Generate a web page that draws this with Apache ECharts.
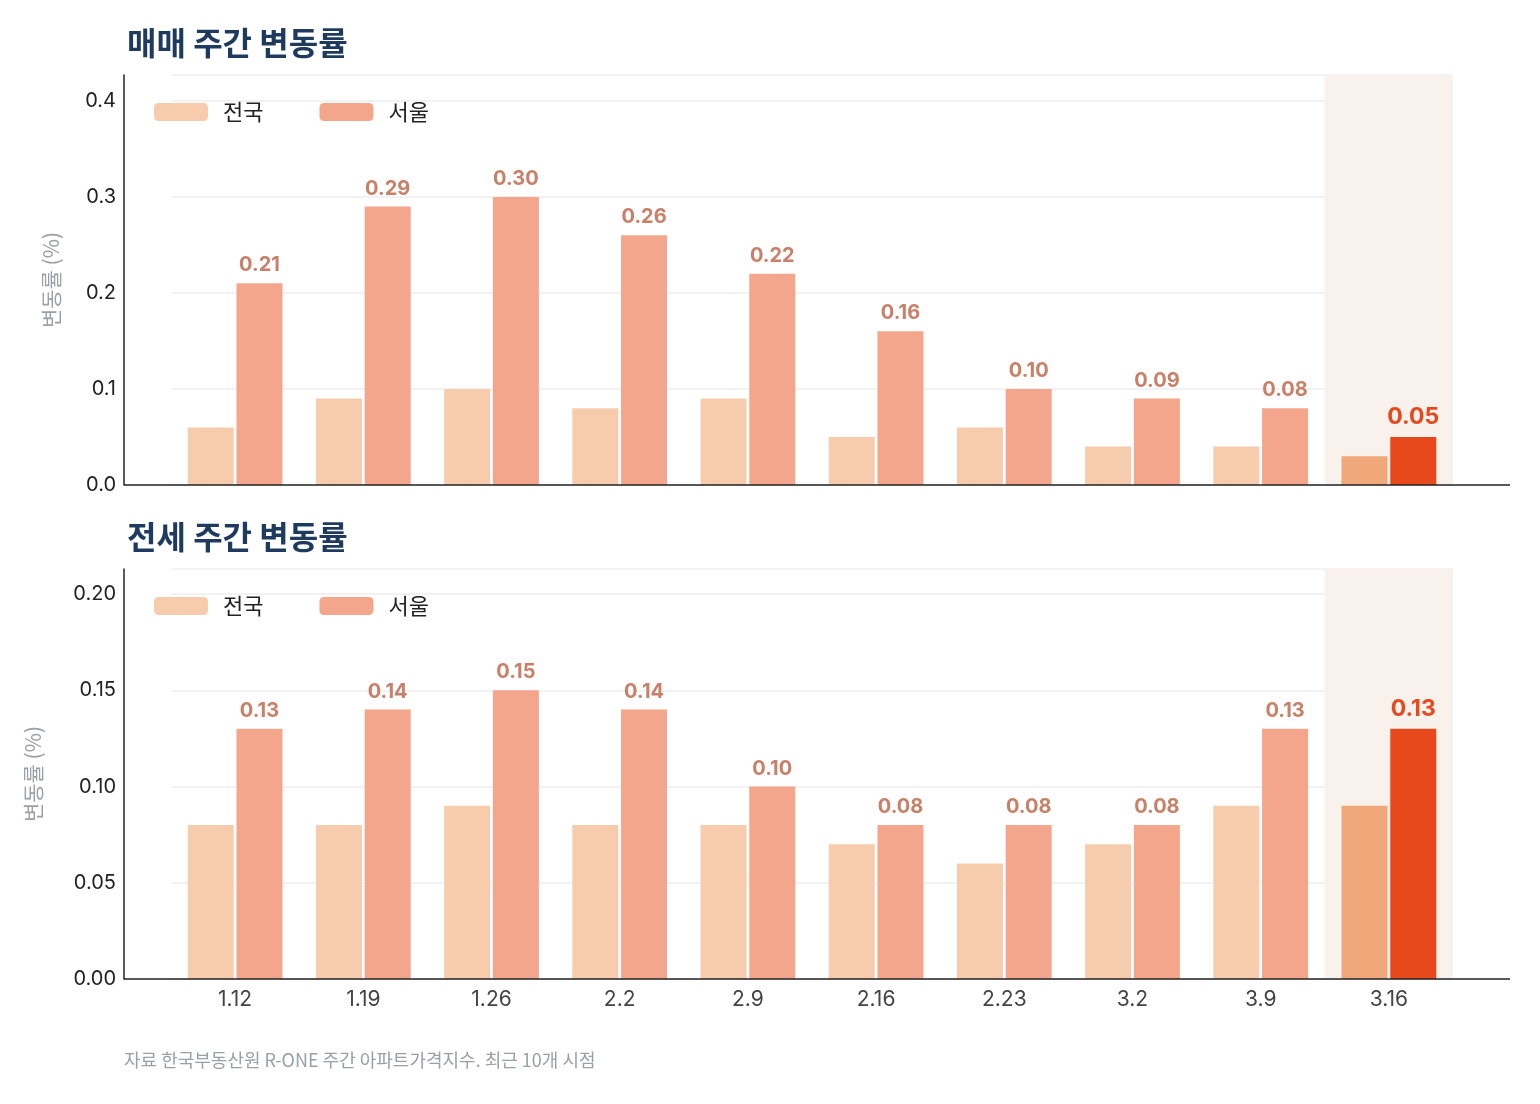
<!DOCTYPE html>
<html><head><meta charset="utf-8">
<script src="https://cdn.jsdelivr.net/npm/echarts@6/dist/echarts.min.js"></script>
<style>html,body{margin:0;background:#fff}#c{width:1540px;height:1104px}</style>
</head><body><div id="c"></div>
<script>
(() => {
  const weeks = ['1.12', '1.19', '1.26', '2.2', '2.9', '2.16', '2.23', '3.2', '3.9', '3.16'];
  const saleNation = [0.06, 0.09, 0.10, 0.08, 0.09, 0.05, 0.06, 0.04, 0.04, 0.03];
  const saleSeoul = [0.21, 0.29, 0.30, 0.26, 0.22, 0.16, 0.10, 0.09, 0.08, 0.05];
  const rentNation = [0.08, 0.08, 0.09, 0.08, 0.08, 0.07, 0.06, 0.07, 0.09, 0.09];
  const rentSeoul = [0.13, 0.14, 0.15, 0.14, 0.10, 0.08, 0.08, 0.08, 0.13, 0.13];

  const FONT = 'Inter, "Noto Sans CJK KR", sans-serif';
  const KR = '"Noto Sans CJK KR", Inter, sans-serif';
  const cNation = '#f6ccad', cSeoul = '#f4a68c';
  const hNation = '#f0a779', hSeoul = '#e8491c';
  const last = weeks.length - 1;

  const chart = echarts.init(document.getElementById('c'));

  const nationData = arr => arr.map((v, i) => i === last ? { value: v, itemStyle: { color: hNation } } : v);
  const seoulData = arr => arr.map((v, i) => i === last
    ? { value: v, itemStyle: { color: hSeoul }, label: { color: hSeoul, fontSize: 23, fontWeight: 'bold' } }
    : v);

  const yAxis = (idx, max, interval, digits, gap) => ({
    type: 'value', gridIndex: idx, min: 0, max, interval, offset: 47,
    name: '변동률 (%)', nameLocation: 'middle', nameRotate: 90, nameGap: gap,
    nameTextStyle: { color: '#9aa0a8', fontSize: 21, fontFamily: KR },
    axisLine: { show: true, lineStyle: { color: '#222', width: 1.5 } },
    axisTick: { show: false },
    axisLabel: { showMaxLabel: false, fontSize: 20, color: '#222', fontFamily: FONT, margin: 8,
      formatter: v => v.toFixed(digits) },
    splitLine: { lineStyle: { color: '#eeeeee', width: 1.5 } }
  });

  const bars = (idx, nation, seoul) => [
    {
      name: '전국', type: 'bar', xAxisIndex: idx, yAxisIndex: idx,
      data: nationData(nation), barWidth: 46, barGap: '6%',
      itemStyle: { color: cNation },
      markArea: {
        silent: true, itemStyle: { color: '#f9f1ec' },
        data: [[{ xAxis: weeks[last] }, { xAxis: weeks[last] }]]
      }
    },
    {
      name: '서울', type: 'bar', xAxisIndex: idx, yAxisIndex: idx,
      data: seoulData(seoul), barWidth: 46,
      itemStyle: { color: cSeoul },
      label: { show: true, position: 'top', distance: 8, color: '#c98068', fontSize: 20, fontWeight: 'bold',
        fontFamily: FONT, formatter: p => p.value.toFixed(2) }
    }
  ];

  const tag = (top) => [
    { type: 'text', left: 1351, top: top, style: { text: '이번 주', fontSize: 25, fontWeight: 'bold', fill: '#1f3a5f', fontFamily: KR } },
    { type: 'line', shape: { x1: 1389, y1: top + 32, x2: 1389, y2: top + 52 }, style: { stroke: '#1f3a5f', lineWidth: 3 } },
    { type: 'polygon', shape: { points: [[1382, top + 46], [1396, top + 46], [1389, top + 58]] }, style: { fill: '#1f3a5f' } }
  ];

  chart.setOption({
    animation: false,
    textStyle: { fontFamily: FONT },
    title: [
      { text: '매매 주간 변동률', left: 122, top: 22, textStyle: { fontSize: 32, fontWeight: 'bold', color: '#1f3a5f', fontFamily: KR } },
      { text: '전세 주간 변동률', left: 122, top: 516, textStyle: { fontSize: 32, fontWeight: 'bold', color: '#1f3a5f', fontFamily: KR } }
    ],
    legend: [
      { data: ['전국', '서울'], left: 149, top: 96, itemWidth: 54, itemHeight: 18, itemGap: 56,
        textStyle: { fontSize: 22, color: '#222', fontFamily: KR, padding: [0, 0, 0, 10] } },
      { data: ['전국', '서울'], left: 149, top: 590, itemWidth: 54, itemHeight: 18, itemGap: 56,
        textStyle: { fontSize: 22, color: '#222', fontFamily: KR, padding: [0, 0, 0, 10] } }
    ],
    grid: [
      { left: 171, right: 87, top: 75, bottom: 619 },
      { left: 171, right: 87, top: 569, bottom: 125 }
    ],
    xAxis: [0, 1].map(i => ({
      type: 'category', gridIndex: i, data: weeks,
      axisLine: { show: false }, axisTick: { show: false },
      axisLabel: { show: i === 1, fontSize: 21, color: '#444', margin: 10, fontFamily: FONT }
    })),
    yAxis: [yAxis(0, 0.427, 0.1, 1, 62), yAxis(1, 0.213, 0.05, 2, 80)],
    series: [...bars(0, saleNation, saleSeoul), ...bars(1, rentNation, rentSeoul)],
    graphic: [
      { type: 'line', shape: { x1: 124, y1: 485, x2: 1510, y2: 485 }, style: { stroke: '#222', lineWidth: 1.5 }, z: 10 },
      { type: 'line', shape: { x1: 124, y1: 979, x2: 1510, y2: 979 }, style: { stroke: '#222', lineWidth: 1.5 }, z: 10 },
      ...tag(96), ...tag(590),
      { type: 'text', left: 124, top: 1051, style: { text: '자료 한국부동산원 R-ONE 주간 아파트가격지수. 최근 10개 시점', fontSize: 18, fill: '#9aa0a8', fontFamily: KR } }
    ]
  });
})();
</script></body></html>
